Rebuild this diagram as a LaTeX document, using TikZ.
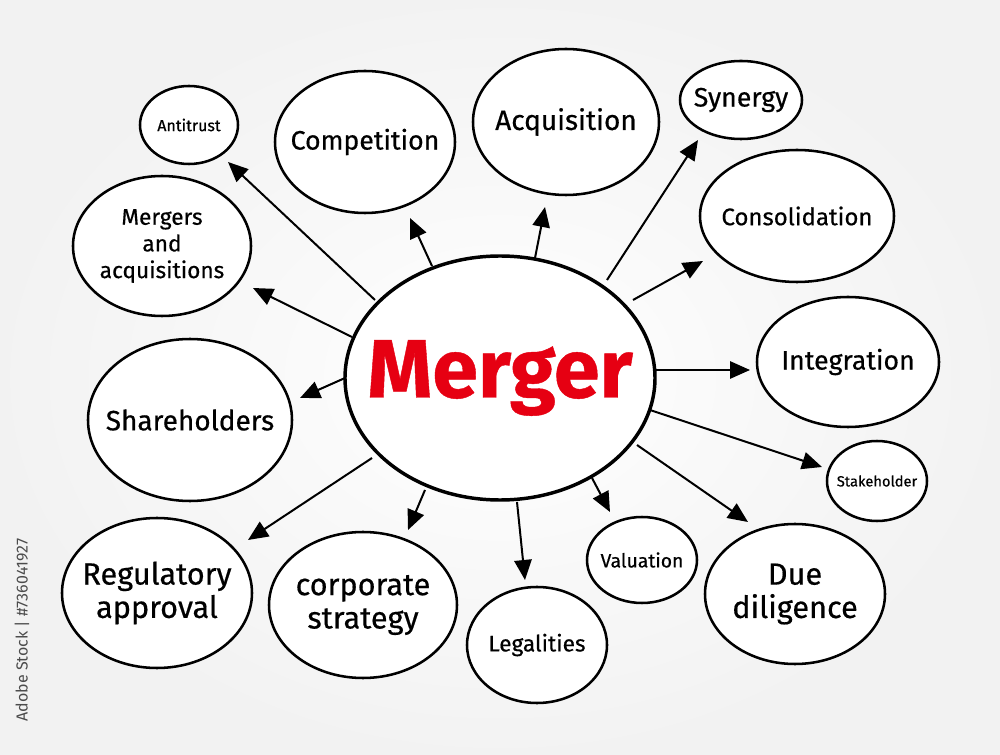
\documentclass[tikz,border=0pt]{standalone}
\usepackage{fontspec}
\setmainfont{Fira Sans}[FakeBold=0.5]
\newfontfamily\wmfont{Fira Sans}
\usetikzlibrary{arrows.meta}
\definecolor{mred}{HTML}{E60012}
\tikzset{
  bub/.style={draw=black, line width=1.9pt, fill=white},
  lab/.style={align=center, text=black, inner sep=0pt},
  conn/.style={line width=1.5pt, draw=black, -{Triangle[length=15pt,width=13pt]}},
}
\newcommand{\fs}[2]{\fontsize{#1}{#2}\selectfont}
\begin{document}
\begin{tikzpicture}[x=0.75pt,y=-0.75pt]
\useasboundingbox (0,0) rectangle (1000,755);
\shade[inner color=white, outer color=gray!10] (0,0) rectangle (1000,755);
% watermark id
\node[rotate=90, text=black!70, font=\wmfont\fs{12}{14}] (wm) at (22,630) {Adobe Stock | \#736041927};
% central
\draw[line width=2.6pt, fill=white] (500,378) ellipse [x radius=155, y radius=122];
\node[lab, text=mred, font=\fs{62}{70}\bfseries] (c) at (500,378) {Merger};
% outer bubbles
\draw[bub] (189,125) ellipse [x radius=49, y radius=39];
\node[lab, font=\fs{12}{14}] (antitrust) at (189,125) {Antitrust};
\draw[bub] (365,142) ellipse [x radius=90, y radius=71];
\node[lab, font=\fs{20}{24}] (competition) at (365,142) {Competition};
\draw[bub] (566,122) ellipse [x radius=93, y radius=73];
\node[lab, font=\fs{21}{24}] (acquisition) at (566,122) {Acquisition};
\draw[bub] (741,100) ellipse [x radius=61, y radius=39];
\node[lab, font=\fs{20}{24}] (synergy) at (741,100) {Synergy};
\draw[bub] (797,216) ellipse [x radius=97, y radius=66];
\node[lab, font=\fs{18}{22}] (consolidation) at (797,216) {Consolidation};
\draw[bub] (162,246) ellipse [x radius=89, y radius=70];
\node[lab, font=\fs{17}{20}] (ma) at (162,246) {Mergers\\and\\acquisitions};
\draw[bub] (848,362) ellipse [x radius=91, y radius=65];
\node[lab, font=\fs{20}{24}] (integration) at (848,362) {Integration};
\draw[bub] (190,420) ellipse [x radius=102, y radius=81];
\node[lab, font=\fs{21}{24}] (shareholders) at (190,420) {Shareholders};
\draw[bub] (877,481) ellipse [x radius=50, y radius=40];
\node[lab, font=\fs{11}{13}] (stakeholder) at (877,481) {Stakeholder};
\draw[bub] (157,593) ellipse [x radius=95, y radius=75];
\node[lab, font=\fs{23}{25}] (regulatory) at (157,593) {Regulatory\\approval};
\draw[bub] (363,605) ellipse [x radius=94, y radius=73];
\node[lab, font=\fs{23}{25}] (corporate) at (363,605) {corporate\\strategy};
\draw[bub] (537,645) ellipse [x radius=70, y radius=58];
\node[lab, font=\fs{17}{20}] (legalities) at (537,645) {Legalities};
\draw[bub] (642,560) ellipse [x radius=55, y radius=43];
\node[lab, font=\fs{14.5}{17}] (valuation) at (642,560) {Valuation};
\draw[bub] (795,594) ellipse [x radius=90, y radius=70];
\node[lab, font=\fs{23}{25}] (duediligence) at (795,594) {Due\\diligence};
% arrow starts (on the central ellipse) and tips
\coordinate (s1) at (375,300);  \coordinate (t1) at (228,162);
\coordinate (s2) at (432,266);  \coordinate (t2) at (410,218);
\coordinate (s3) at (535,258);  \coordinate (t3) at (545,207);
\coordinate (s4) at (607,280);  \coordinate (t4) at (698,140);
\coordinate (s5) at (633,300);  \coordinate (t5) at (703,261);
\coordinate (s6) at (352,337);  \coordinate (t6) at (253,288);
\coordinate (s7) at (345,378);  \coordinate (t7) at (300,398);
\coordinate (s8) at (655,370);  \coordinate (t8) at (750,370);
\coordinate (s9) at (650,410);  \coordinate (t9) at (822,467);
\coordinate (s10) at (372,458); \coordinate (t10) at (248,540);
\coordinate (s11) at (425,490); \coordinate (t11) at (408,530);
\coordinate (s12) at (517,502); \coordinate (t12) at (525,580);
\coordinate (s13) at (592,478); \coordinate (t13) at (610,512);
\coordinate (s14) at (637,445); \coordinate (t14) at (748,522);
\foreach \i in {1,...,14} { \draw[conn] (s\i) -- (t\i); }
\end{tikzpicture}
\end{document}
